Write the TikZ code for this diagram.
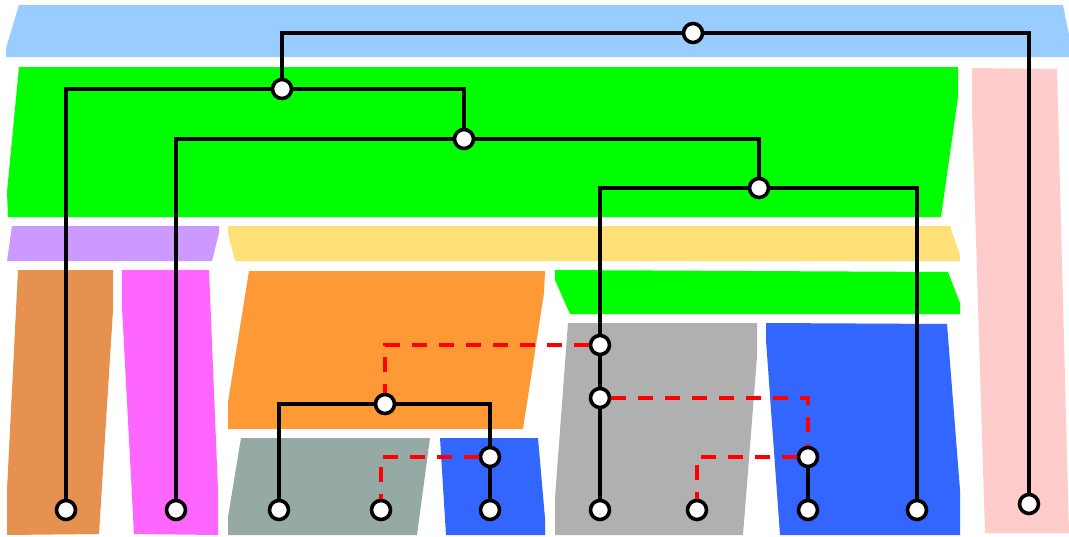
\documentclass[tikz,border=0pt]{standalone}
\definecolor{cTop}{HTML}{99CCFF}
\definecolor{cGreen}{HTML}{00FF00}
\definecolor{cPink}{HTML}{FFCCCC}
\definecolor{cPurple}{HTML}{CC99FF}
\definecolor{cYellow}{HTML}{FFE077}
\definecolor{cBrown}{HTML}{E69150}
\definecolor{cMagenta}{HTML}{FF66FF}
\definecolor{cOrange}{HTML}{FD9A36}
\definecolor{cSlate}{HTML}{95A9A5}
\definecolor{cBlue}{HTML}{3366FF}
\definecolor{cGray}{HTML}{B0B0B0}
\begin{document}
\begin{tikzpicture}[x=1pt,y=-1pt,
  dot/.style={circle,draw=black,fill=white,line width=3.6pt,minimum size=19pt,inner sep=0pt},
  tree/.style={draw=black,line width=3.6pt},
  link/.style={draw=red,line width=3.6pt,dash pattern=on 15pt off 12pt}]
\useasboundingbox (0,0) rectangle (1069,536);
% regions
\fill[cTop] (19,5) -- (1063,5) -- (1069,35) -- (1069,57) -- (6,57) -- (6,48) -- cycle;
\fill[cGreen] (19,67) -- (958,67) -- (958,97) -- (941,217) -- (8,217) -- (7,192) -- cycle;
\fill[cPink] (972,68) -- (1057,69) -- (1069,533) -- (985,533) -- (972,110) -- cycle;
\fill[cPurple] (12,226) -- (219,226) -- (219,233) -- (212,261) -- (7,261) -- cycle;
\fill[cYellow] (228,226) -- (950,226) -- (960,255) -- (960,261) -- (235,261) -- (228,233) -- cycle;
\fill[cBrown] (18,270) -- (113,270) -- (113,310) -- (99,534) -- (7,535) -- (7,490) -- cycle;
\fill[cMagenta] (122,270) -- (209,270) -- (218,490) -- (218,535) -- (134,534) -- (122,307) -- cycle;
\fill[cOrange] (249,271) -- (545,271) -- (544,293) -- (523,429) -- (228,429) -- (228,402) -- cycle;
\fill[cSlate] (241,438) -- (430,438) -- (417,535) -- (228,535) -- (228,517) -- cycle;
\fill[cBlue] (440,438) -- (538,438) -- (545,518) -- (545,535) -- (446,535) -- cycle;
\fill[cGreen] (555,270) -- (948,272) -- (960,303) -- (960,314) -- (570,314) -- (555,280) -- cycle;
\fill[cGray] (568,323) -- (757,323) -- (757,357) -- (743,535) -- (555,535) -- (555,498) -- cycle;
\fill[cBlue] (766,323) -- (947,324) -- (960,490) -- (960,535) -- (780,535) -- (766,340) -- cycle;
% nodes
\node[dot] (root) at (693,33) {};
\node[dot] (n1) at (282,89) {};
\node[dot] (n2) at (464,139) {};
\node[dot] (n3) at (759,188) {};
\node[dot] (g1) at (600,345) {};
\node[dot] (g2) at (600,398) {};
\node[dot] (o1) at (385,404) {};
\node[dot] (b1) at (490,457) {};
\node[dot] (b2) at (808,457) {};
\node[dot] (l1) at (66,510) {};
\node[dot] (l2) at (176,510) {};
\node[dot] (l3) at (279,510) {};
\node[dot] (l4) at (381,510) {};
\node[dot] (l5) at (490,510) {};
\node[dot] (l6) at (600,510) {};
\node[dot] (l7) at (697,510) {};
\node[dot] (l8) at (808,510) {};
\node[dot] (l9) at (917,510) {};
\node[dot] (lp) at (1029,504) {};
% tree edges
\draw[tree] (n1) |- (root) -| (lp);
\draw[tree] (l1) |- (n1) -| (n2);
\draw[tree] (l2) |- (n2) -| (n3);
\draw[tree] (g1) |- (n3) -| (l9);
\draw[tree] (g1) -- (g2);
\draw[tree] (g2) -- (l6);
\draw[tree] (l3) |- (o1) -| (b1);
\draw[tree] (b1) -- (l5);
\draw[tree] (b2) -- (l8);
% dashed links
\draw[link] (g1) -| (o1);
\draw[link] (g2) -| (b2);
\draw[link] (b2) -| (l7);
\draw[link] (b1) -| (l4);
\end{tikzpicture}
\end{document}
